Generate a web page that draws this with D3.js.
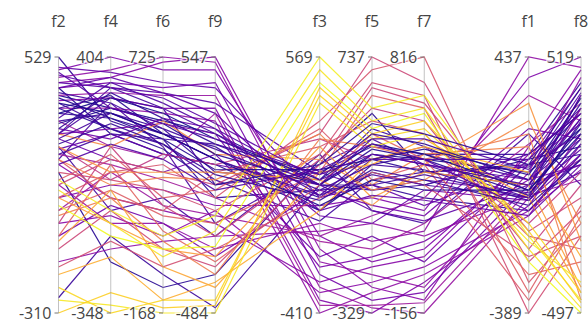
<!DOCTYPE html>
<meta charset="utf-8">
<head>
  <script src="https://d3js.org/d3.v7.min.js"></script>
  <style>
    body { margin: 0; background: #fff; font-family: 'Open Sans', sans-serif; }
  </style>
</head>
<div id="my_dataviz"></div>
<script>
  // axis order, blanks are empty slots between groups
  var slots = ["f2", "f4", "f6", "f9", "", "f3", "f5", "f7", " ", "f1", "f8"];
  var dims = ["f2", "f4", "f6", "f9", "f3", "f5", "f7", "f1", "f8"];

  var f2 = [403,361,319,428,277,529,193,235,151,-260,344,378, 487,462,445,428,403,386,361,319,277,261,210,177,110,68,26,-58,-16,-142,495,470,294,227, 110,68,151,26,-16,193,-58,-100,235,126,-159, 277,235,193,68,-75,-184,9, 126,93,42,-226,-268,-310, 344,311,294,412,261,395,328,244,445,361,277,378,177,428,210,479];
  var f4 = [254,291,239,178,314,216,269,-47,-198,-122,224,193, 404,366,344,329,299,284,254,141,193,103,88,-10,-85,28,66,-32,-62,-160,359,314,163,178, 103,66,43,13,141,-10,88,-47,43,118,-137, 141,66,28,-85,13,-183,-10, -47,-85,-122,-348,-325,-288, 284,254,299,269,239,224,329,208,314,193,284,239,148,344,178,254];
  var f6 = [502,457,475,386,546,439,412,234,-79,-34,457,421, 680,725,707,618,591,546,529,368,493,323,296,189,145,261,207,145,100,82,636,600,511,386, 323,350,261,171,207,189,118,55,386,234,-7, 502,323,305,55,-7,-123,82, 100,28,55,-123,-168,-150, 529,493,511,475,457,439,564,421,582,404,546,457,368,600,439,493];
  var f9 = [238,135,83,114,32,-20,-123,-175,-329,-463,186,52, 495,526,547,444,392,341,289,320,238,155,-20,-123,-226,-51,-92,-257,-72,-175,423,361,258,114, 32,-20,-72,-123,-175,83,-278,-298,114,11,-226, 155,83,52,-257,-381,-360,-329, -92,-154,-216,-432,-484,-453, 217,155,196,176,135,93,258,73,279,32,238,135,11,320,196,217];
  var f3 = [80,31,99,-18,128,60,158,197,177,80,-18,-58, -116,-214,-165,-263,-312,-361,-410,-381,-234,-195,-136,-292,-67,1,-116,60,-332,-97,31,128,-38,80, 275,324,197,128,177,226,80,158,256,295,31, 177,99,275,226,128,-18,256, 569,520,471,422,393,452, 99,80,119,60,40,138,80,21,99,158,40,1,138,-18,80,119];
  var f5 = [332,311,439,257,364,204,396,97,502,183,289,225, -116,-169,-222,-276,-308,-329,-244,-297,-95,-9,-63,-137,-31,151,76,119,-201,44,204,183,44,97, 737,684,630,577,524,471,417,609,311,225,257, 183,119,204,151,289,311,364, 524,471,439,396,364,417, 375,353,417,289,332,311,396,268,311,460,247,225,375,161,204,332];
  var f7 = [427,379,476,330,447,281,408,184,379,330,447,379, 87,-59,-107,-78,-156,-39,-10,-117,116,38,184,58,155,233,281,213,19,136,252,349,311,194, 719,816,670,622,573,524,427,641,476,408,330, 349,408,447,379,505,476,427, 670,622,602,544,524,573, 447,427,486,388,408,466,505,349,427,524,330,311,427,272,369,408];
  var f1 = [65,24,7,107,41,-59,-17,189,90,-17,123,82, 107,65,148,24,-17,-42,-75,7,41,90,156,123,437,371,313,206,-59,-9,90,-1,-26,24, -224,-290,-389,-323,-183,-141,-265,-125,-100,-348,-207, 231,288,148,24,-17,65,189, -141,-183,-224,-100,-158,-125, 7,-9,41,-26,24,57,74,-42,-59,90,123,7,107,-75,-17,41];
  var f8 = [235,316,367,163,194,113,265,11,133,62,417,295, 397,438,468,367,316,214,174,113,92,255,336,295,478,519,265,194,72,31,214,153,133,92, -91,-141,-192,-70,11,-243,-294,-40,62,-111,-192, -141,-212,-345,-395,-416,-274,-446, -446,-477,-497,-416,-375,-456, 214,255,336,174,275,356,377,113,133,397,295,235,316,92,194,275];
  // value used for the line colour
  var target = [.02,.05,.08,.03,.1,.06,.12,.1,.04,.08,.07,.09, .25,.3,.28,.22,.32,.26,.3,.34,.24,.2,.35,.27,.3,.25,.33,.22,.28,.3,.18,.15,.2,.17, .5,.55,.52,.58,.48,.55,.6,.5,.45,.57,.53, .72,.75,.7,.78,.8,.82,.68, .98,.95,1.0,.92,.96,.9, .01,.04,.06,.09,.11,.03,.13,.07,.15,.05,.12,.02,.14,.18,.1,.16];

  var cols = { f2: f2, f4: f4, f6: f6, f9: f9, f3: f3, f5: f5, f7: f7, f1: f1, f8: f8 };
  var data = target.map(function (c, i) {
    var row = { c: c };
    dims.forEach(function (d) { row[d] = cols[d][i]; });
    return row;
  });

  var width = 588, height = 325;
  var svg = d3.select("#my_dataviz")
    .append("svg")
    .attr("width", width)
    .attr("height", height)
    .style("overflow", "visible");

  var x = d3.scalePoint().domain(slots).range([58.5, 581]);

  var y = {};
  dims.forEach(function (d) {
    y[d] = d3.scaleLinear().domain(d3.extent(cols[d])).range([313, 57]);
  });

  var color = d3.scaleSequential(d3.interpolatePlasma).domain([0, 1]);

  var line = d3.line();
  function path(d) {
    return line(dims.map(function (k) { return [x(k), y[k](d[k])]; }));
  }

  svg.append("g")
    .selectAll("path")
    .data(data)
    .enter()
    .append("path")
    .attr("d", path)
    .attr("fill", "none")
    .attr("stroke", function (d) { return color(d.c); })
    .attr("stroke-width", 1.2)
    .attr("stroke-opacity", 0.9);

  // axes
  var axes = svg.selectAll(".axis")
    .data(dims)
    .enter()
    .append("g")
    .attr("class", "axis")
    .attr("transform", function (d) { return "translate(" + x(d) + ",0)"; });

  axes.append("line")
    .attr("y1", 57).attr("y2", 313)
    .attr("stroke", "#999").attr("stroke-opacity", 0.6)
    .attr("stroke-width", 1);

  axes.each(function (d) {
    var g = d3.select(this);
    var ext = y[d].domain();
    ext.forEach(function (v) {
      g.append("line")
        .attr("x1", -4).attr("x2", 0)
        .attr("y1", y[d](v)).attr("y2", y[d](v))
        .attr("stroke", "#777").attr("stroke-width", 1);
      g.append("text")
        .attr("x", -7)
        .attr("y", y[d](v))
        .attr("dy", "0.35em")
        .attr("text-anchor", "end")
        .style("font-size", "16px")
        .style("fill", "#444")
        .style("stroke", "#fff")
        .style("stroke-width", 3)
        .style("stroke-opacity", 0.7)
        .style("paint-order", "stroke")
        .text(v);
    });
  });

  axes.append("text")
    .attr("y", 21)
    .attr("dy", "0.35em")
    .attr("text-anchor", "middle")
    .style("font-size", "16px")
    .style("fill", "#444")
    .text(function (d) { return d; });
</script>
